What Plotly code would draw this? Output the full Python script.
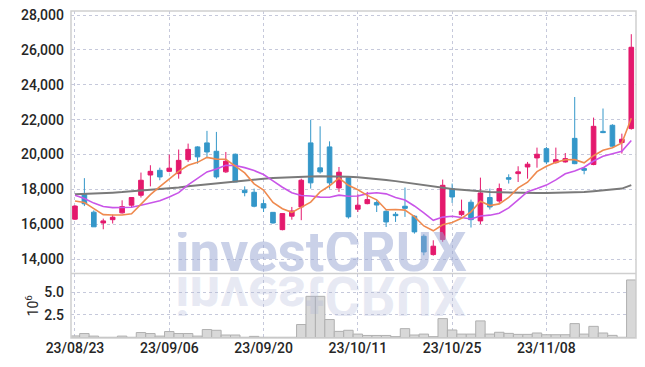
import plotly.graph_objects as go
import pandas as pd

# ---------------- data ----------------
dates = [
    "23/08/23", "23/08/24", "23/08/25", "23/08/28", "23/08/29", "23/08/30", "23/08/31",
    "23/09/01", "23/09/04", "23/09/05", "23/09/06", "23/09/07", "23/09/08", "23/09/11",
    "23/09/12", "23/09/13", "23/09/14", "23/09/15", "23/09/18", "23/09/19", "23/09/20",
    "23/09/21", "23/09/22", "23/09/25", "23/09/26", "23/09/27", "23/10/04", "23/10/05",
    "23/10/06", "23/10/10", "23/10/11", "23/10/12", "23/10/13", "23/10/16", "23/10/17",
    "23/10/18", "23/10/19", "23/10/20", "23/10/23", "23/10/24", "23/10/25", "23/10/26",
    "23/10/27", "23/10/30", "23/10/31", "23/11/01", "23/11/02", "23/11/03", "23/11/06",
    "23/11/07", "23/11/08", "23/11/09", "23/11/10", "23/11/13", "23/11/14", "23/11/15",
    "23/11/16", "23/11/17", "23/11/20", "23/11/21",
]

open_ = [16300, 17750, 16700, 16080, 16270, 16660, 17100, 17670, 18830, 19100,
         19040, 18910, 19710, 20440, 20670, 20190, 19010, 20020, 17960, 17840,
         17190, 16690, 15700, 16470, 17000, 20670, 19240, 20440, 18090, 18680,
         16870, 17190, 17250, 16750, 16580, 17040, 16470, 15320, 14270, 15130,
         18050, 16560, 17270, 16200, 17540, 17340, 18680, 18910, 19290, 19810,
         20340, 19540, 19580, 20930, 19200, 19430, 21330, 21680, 20690, 21490]
high_ = [17100, 18650, 16800, 16330, 16560, 17380, 17540, 18970, 19390, 19250,
         20000, 20290, 20630, 20480, 21360, 21300, 20150, 20060, 18180, 18050,
         17420, 16690, 16620, 17000, 18620, 22000, 21620, 20760, 19290, 18720,
         17730, 17860, 17380, 16810, 16710, 18110, 16520, 15430, 15090, 18570,
         18340, 17420, 17420, 18680, 18050, 18340, 18870, 19330, 19580, 20400,
         20440, 20400, 20090, 23300, 19290, 22120, 22640, 21740, 21200, 26900]
low_ = [16250, 17050, 15850, 15720, 16050, 16620, 16960, 17540, 18180, 18530,
        18990, 18620, 19580, 19480, 19870, 18620, 18950, 18430, 17610, 16980,
        16710, 16050, 15660, 16270, 16240, 18050, 18910, 18050, 17860, 16330,
        16710, 17150, 16710, 15850, 16140, 16430, 15470, 14230, 14210, 15000,
        17230, 16470, 15820, 16010, 16850, 17230, 18340, 18430, 18620, 19250,
        19450, 19480, 19540, 19450, 18870, 19390, 21230, 20440, 20060, 21430]
close_ = [17050, 17180, 15860, 16200, 16410, 17020, 17540, 18530, 19040, 18720,
          19220, 19670, 20300, 19870, 20150, 18720, 19620, 18430, 17820, 17040,
          16940, 16080, 16620, 16770, 18530, 18380, 19010, 18380, 18990, 16430,
          17100, 17420, 17110, 16140, 16500, 16920, 15570, 14420, 14750, 18240,
          17570, 16750, 16270, 17800, 17000, 18050, 18590, 19010, 19450, 20020,
          19580, 19710, 19770, 19480, 19100, 21620, 21260, 20480, 20880, 26150]

# volume in millions of shares
volume = [0.20, 0.46, 0.18, 0.05, 0.05, 0.18, 0.05, 0.57, 0.46, 0.18,
          0.68, 0.46, 0.46, 0.18, 0.90, 0.82, 0.30, 0.30, 0.05, 0.15,
          0.05, 0.05, 0.05, 0.05, 1.45, 4.55, 4.55, 2.00, 0.70, 0.82,
          0.40, 0.25, 0.25, 0.25, 0.12, 1.00, 0.30, 0.40, 0.12, 2.10,
          0.85, 0.40, 0.40, 1.85, 0.40, 0.60, 0.48, 0.37, 0.37, 0.52,
          0.33, 0.33, 0.33, 1.55, 0.40, 1.25, 0.52, 0.26, 0.05, 6.35]

# first values of the moving averages (window extends before the shown period)
ma5_head = [17340, 17250, 16905, 16561]
ma10_head = [17670, 17480, 17220, 17020, 16960, 16960, 16980, 17100, 17230]

# long moving average (grey)
ma_long = [17725, 17740, 17760, 17790, 17820, 17850, 17890, 17930, 17970, 18020,
           18070, 18120, 18180, 18240, 18300, 18360, 18420, 18480, 18530, 18580,
           18620, 18660, 18690, 18720, 18740, 18750, 18760, 18760, 18750, 18730,
           18700, 18660, 18610, 18550, 18480, 18400, 18320, 18240, 18160, 18090,
           18030, 17980, 17930, 17890, 17860, 17840, 17820, 17810, 17800, 17800,
           17800, 17810, 17820, 17840, 17860, 17900, 17940, 17980, 18050, 18250]

x_ticks = ["23/08/23", "23/09/06", "23/09/20", "23/10/11", "23/10/25", "23/11/08"]
price_ticks = [14000, 16000, 18000, 20000, 22000, 24000, 26000, 28000]
vol_ticks = [2.5, 5.0]

# ---------------- derived ----------------
cs = pd.Series(close_, dtype=float)
ma5 = cs.rolling(5).mean()
ma5.iloc[:len(ma5_head)] = ma5_head
ma10 = cs.rolling(10).mean()
ma10.iloc[:len(ma10_head)] = ma10_head

PINK = "#e4196d"
BLUE = "#3497c9"
GRID = "#c6c9db"
FRAME = "#cfcfcf"
FONT = "Roboto, sans-serif"
TICKFONT = dict(family=FONT, size=14, color="#262626", weight=500)

fig = go.Figure()
fig.add_trace(go.Candlestick(
    x=dates, open=open_, high=high_, low=low_, close=close_,
    increasing=dict(line=dict(color=PINK, width=1), fillcolor=PINK),
    decreasing=dict(line=dict(color=BLUE, width=1), fillcolor=BLUE),
    whiskerwidth=0, xaxis="x", yaxis="y", showlegend=False, hoverinfo="skip",
))
fig.add_trace(go.Scatter(x=dates, y=ma_long, mode="lines", xaxis="x", yaxis="y",
                         line=dict(color="#7a7a7a", width=2), showlegend=False))
fig.add_trace(go.Scatter(x=dates, y=ma10, mode="lines", xaxis="x", yaxis="y",
                         line=dict(color="#c955e8", width=1.6), showlegend=False))
fig.add_trace(go.Scatter(x=dates, y=ma5, mode="lines", xaxis="x", yaxis="y",
                         line=dict(color="#ef8a4f", width=1.6), showlegend=False))
fig.add_trace(go.Bar(x=dates, y=volume, xaxis="x2", yaxis="y2", showlegend=False,
                     marker=dict(color="#d8d8d8", line=dict(color="#b0b0b0", width=1))))

VD = 0.197
xcommon = dict(type="category", range=[-0.42, 59.5], autorange=False, showgrid=True,
               gridcolor=GRID, griddash="dot", gridwidth=1, tickvals=x_ticks,
               zeroline=False, showline=False, ticks="", fixedrange=True,
               automargin=False)
fig.update_layout(
    width=645, height=367,
    margin=dict(l=71, r=9, t=11, b=29, autoexpand=False),
    paper_bgcolor="white", plot_bgcolor="white",
    bargap=0,
    font=dict(family=FONT, size=14, color="#262626"),
    xaxis=dict(domain=[0, 1], anchor="y", showticklabels=False,
               rangeslider=dict(visible=False), **xcommon),
    xaxis2=dict(domain=[0, 1], anchor="y2", ticktext=x_ticks,
                tickfont=TICKFONT, **xcommon),
    yaxis=dict(domain=[VD, 1], range=[13181, 28229], autorange=False,
               tickvals=price_ticks, tickfont=TICKFONT,
               tickformat=",d", showgrid=True, gridcolor=GRID, griddash="dot",
               zeroline=False, ticks="", ticklabelstandoff=6, fixedrange=True,
               automargin=False),
    yaxis2=dict(domain=[0, VD], range=[-0.03, 7.05], autorange=False,
                tickvals=vol_ticks, tickfont=TICKFONT,
                tickformat=".1f", showgrid=True, gridcolor=GRID, griddash="dot",
                zeroline=False, ticks="", ticklabelstandoff=6, fixedrange=True,
                automargin=False,
                title=dict(text="10<sup>6</sup>", standoff=2,
                           font=dict(family=FONT, size=14, color="#262626"))),
    shapes=[
        dict(type="rect", xref="paper", yref="paper", x0=0, x1=1, y0=0, y1=1,
             line=dict(color=FRAME, width=1.5), layer="above"),
        dict(type="line", xref="paper", yref="paper", x0=0, x1=1, y0=VD, y1=VD,
             line=dict(color=FRAME, width=1.5), layer="above"),
    ],
    annotations=[
        dict(text="<b>investCRUX</b>", xref="paper", yref="paper",
             x=0.4416, y=0.2615, xanchor="center", yanchor="middle",
             height=40, showarrow=False,
             font=dict(family="Roboto", size=55, color="rgba(150,163,210,0.5)")),
        dict(text="<b>investCRUX</b>", xref="paper", yref="paper",
             x=0.4416, y=0.127, xanchor="center", yanchor="middle",
             height=40, showarrow=False,
             font=dict(family="Roboto", size=55, color="rgba(170,180,215,0.28)")),
    ],
)

flip_js = """
(function(){
  document.documentElement.style.margin = '0';
  document.documentElement.style.padding = '0';
  document.body.style.margin = '0';
  document.body.style.padding = '0';
  var gd = document.getElementsByClassName('plotly-graph-div')[0];
  function flip(){
    var anns = gd.querySelectorAll('g.annotation');
    if (anns.length > 1) {
      var t = anns[1].querySelector('text');
      if (t) {
        t.style.transformBox = 'fill-box';
        t.style.transformOrigin = 'center';
        t.style.transform = 'scaleY(-1)';
      }
    }
  }
  flip();
  setTimeout(flip, 0);
  setTimeout(flip, 50);
  if (gd.on) { gd.on('plotly_afterplot', flip); }
})();
"""

fig.write_html("out.html", post_script=flip_js,
               config={"displayModeBar": False, "staticPlot": True})
